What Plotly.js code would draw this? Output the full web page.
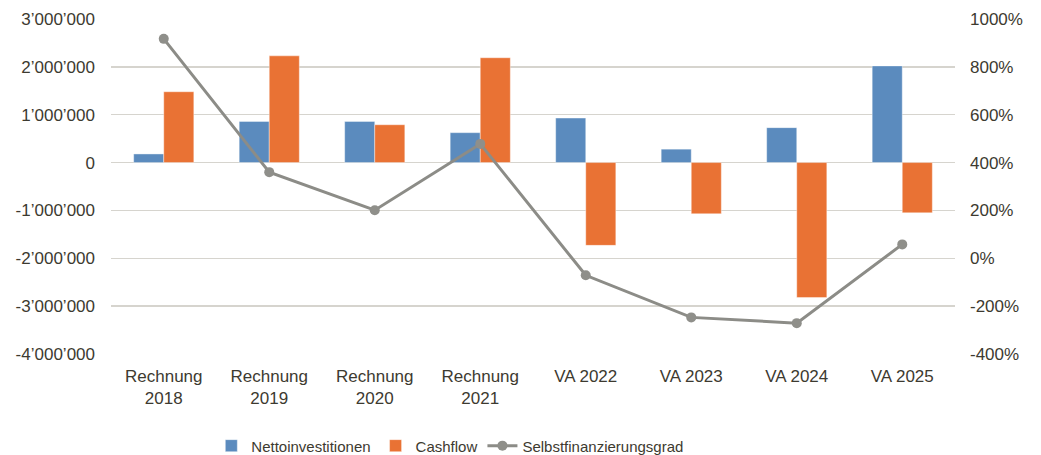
<!DOCTYPE html>
<html>
<head>
<meta charset="utf-8">
<script src="https://cdn.plot.ly/plotly-3.0.1.min.js"></script>
<style>html,body{margin:0;padding:0;background:#fff;}#chart{width:1041px;height:455px;}</style>
</head>
<body>
<div id="chart"></div>
<script>
const categories = ["Rechnung<br>2018", "Rechnung<br>2019", "Rechnung<br>2020", "Rechnung<br>2021", "VA 2022", "VA 2023", "VA 2024", "VA 2025"];
const nettoinvestitionen = [180000, 860000, 860000, 625000, 930000, 280000, 730000, 2020000];
const cashflow = [1480000, 2230000, 790000, 2190000, -1730000, -1070000, -2820000, -1050000];
const selbstfinanzierungsgrad = [917, 360, 201, 478, -71, -247, -271, 58];
const leftTickVals = [-4000000, -3000000, -2000000, -1000000, 0, 1000000, 2000000, 3000000];
const leftTickText = ["-4’000’000", "-3’000’000", "-2’000’000", "-1’000’000", "0", "1’000’000", "2’000’000", "3’000’000"];
const rightTickVals = [-400, -200, 0, 200, 400, 600, 800, 1000];
const rightTickText = ["-400%", "-200%", "0%", "200%", "400%", "600%", "800%", "1000%"];

const textColor = '#3d3a30';
const gridColor = '#d6d4ce';
const font = {family: 'Liberation Sans, Arial, sans-serif', size: 17, color: textColor};

const traces = [
  {type: 'bar', name: 'Nettoinvestitionen', x: categories, y: nettoinvestitionen,
   marker: {color: '#5b8bbe', line: {color: 'rgba(255,255,255,0.4)', width: 1}}},
  {type: 'bar', name: 'Cashflow', x: categories, y: cashflow,
   marker: {color: '#e97234', line: {color: 'rgba(255,255,255,0.4)', width: 1}}},
  {type: 'scatter', mode: 'lines+markers', name: 'Selbstfinanzierungsgrad', x: categories, y: selbstfinanzierungsgrad,
   yaxis: 'y2', line: {color: '#8c8c87', width: 3}, marker: {color: '#8f8f8a', size: 10, symbol: 'circle'}}
];

const layout = {
  width: 1041, height: 455,
  margin: {l: 111, r: 86, t: 19, b: 101, autoexpand: false},
  paper_bgcolor: '#fff', plot_bgcolor: '#fff',
  font: font,
  barmode: 'group', bargap: 0.43, bargroupgap: 0,
  showlegend: true,
  legend: {orientation: 'h', xref: 'container', yref: 'container', x: 0.203, xanchor: 'left', y: 0.02, yanchor: 'middle',
           font: {family: 'Liberation Sans, Arial, sans-serif', size: 15, color: textColor},
           traceorder: 'normal', itemwidth: 30},
  xaxis: {type: 'category', showgrid: false, zeroline: false, showline: false, ticks: '',
          tickfont: font, ticklabelstandoff: 10},
  yaxis: {range: [-4000000, 3000000], tickvals: leftTickVals, ticktext: leftTickText,
          showgrid: true, gridcolor: gridColor, gridwidth: 1.5, zeroline: false, showline: false,
          ticks: '', tickfont: font, ticklabelstandoff: 15},
  yaxis2: {range: [-400, 1000], tickvals: rightTickVals, ticktext: rightTickText, overlaying: 'y', side: 'right',
           showgrid: false, zeroline: false, showline: false, ticks: '', tickfont: font, ticklabelstandoff: 14}
};

Plotly.newPlot('chart', traces, layout, {displayModeBar: false, staticPlot: true});
</script>
</body>
</html>
